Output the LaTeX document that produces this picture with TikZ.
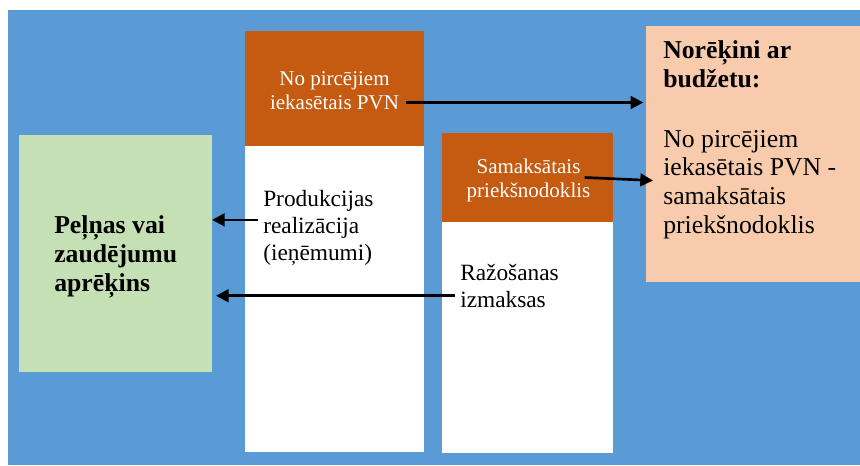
\documentclass[tikz,border=0pt]{standalone}
\usepackage{xcolor}
\usepackage{tikz}
\usepackage{fontspec}
\setmainfont{Liberation Serif}
\definecolor{panelblue}{RGB}{91,155,213}
\definecolor{headorange}{RGB}{197,90,17}
\definecolor{pnlgreen}{RGB}{197,224,180}
\definecolor{budgetpeach}{RGB}{248,203,173}
\usetikzlibrary{positioning,calc,fit,arrows.meta}

\begin{document}
\begin{tikzpicture}[
    x=0.75pt, y=-0.75pt,
    box/.style={inner sep=0pt, outer sep=0pt},
    head/.style={box, fill=headorange},
    body/.style={box, fill=white},
    headtxt/.style={text=white, align=center, inner sep=0pt, font=\fontsize{15.75}{18}\selectfont},
    bodytxt/.style={align=left, inner sep=0pt, font=\fontsize{17.5}{19.9}\selectfont},
    bigtxt/.style={align=left, inner sep=0pt, font=\fontsize{19.3}{21.5}\selectfont},
    arrow/.style={-{Triangle[length=9.5pt,width=9.5pt]}, line width=2pt}
]

\useasboundingbox (0,0) rectangle (860,465);
\fill[panelblue] (8,10) rectangle (860,465);

% Sales column
\node[head, fit={(245,31) (424,146)}] (vathead) {};
\node[body, fit={(245,146) (424,452)}] (salesbody) {};

% Cost column
\node[head, fit={(442,133) (613,222)}] (inputhead) {};
\node[body, fit={(442,222) (613,453)}] (costbody) {};

% Outer boxes
\node[box, fill=pnlgreen, fit={(19,135) (212,372)}] (pnl) {};
\node[box, fill=budgetpeach, fit={(646,26) (860,282)}] (budget) {};

% Texts (base = last line)
\node[headtxt] (vattext) at ($(vathead.center)+(0,2)$) {No pircējiem\\iekasētais PVN};
\node[headtxt] (inputtext) at ($(inputhead.center)+(1,3)$) {Samaksātais\\priekšnodoklis};
\node[bodytxt, anchor=base west] (salestext) at (263,260) {Produkcijas\\realizācija\\(ieņēmumi)};
\node[bodytxt, anchor=base west] (costtext) at (460,307) {Ražošanas\\izmaksas};
\node[bigtxt, anchor=base west, font=\fontsize{19.3}{21.75}\selectfont\bfseries] (pnltext) at (54,291) {Peļņas vai\\zaudējumu\\aprēķins};
\node[bigtxt, anchor=base west] (budgettext) at (663,233)
    {\textbf{Norēķini ar}\\\textbf{budžetu:}\\[23.5pt]No pircējiem\\iekasētais PVN -\\samaksātais\\priekšnodoklis};

% Arrows
\coordinate (vatout) at ($(vattext.east)+(7,12)$);
\coordinate (inputout) at ($(inputtext.east)+(-6,-3)$);
\coordinate (inputin) at ($(inputout -| budget.west)+(7,3)$);
\coordinate (salesout) at ($(salestext.west)+(-5,-8)$);
\coordinate (costout) at ($(costtext.west)+(-5,10)$);

\draw[arrow, shorten >=2pt] (vatout) -- (vatout -| budget.west);
\draw[arrow] (inputout) -- (inputin);
\draw[arrow] (salesout) -- (salesout -| pnl.east);
\draw[arrow, shorten >=3pt] (costout) -- (costout -| pnl.east);

\end{tikzpicture}
\end{document}
